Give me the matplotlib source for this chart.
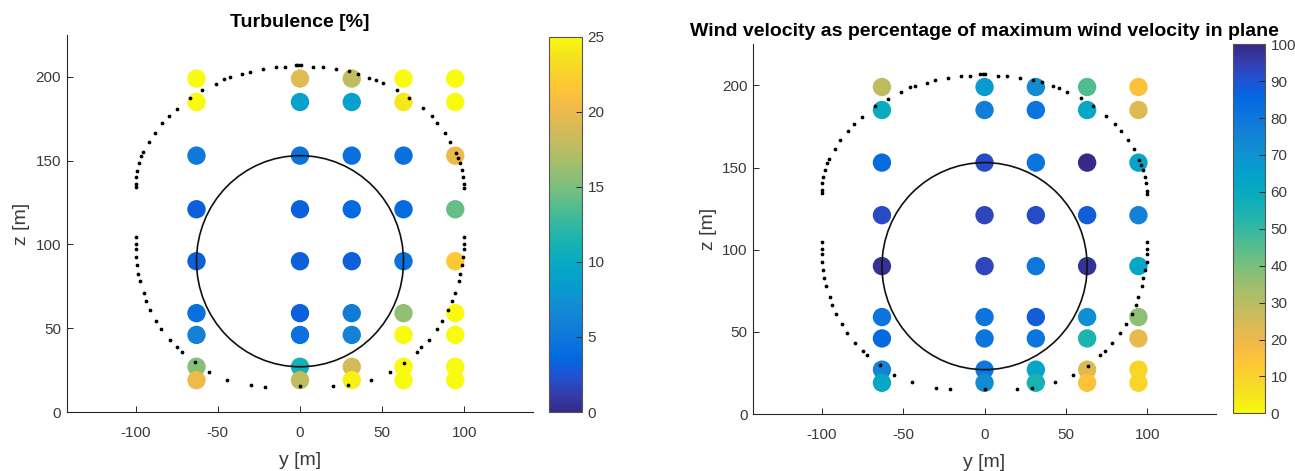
import numpy as np
import matplotlib
matplotlib.use('Agg')
import matplotlib.pyplot as plt
from matplotlib.colors import LinearSegmentedColormap
from matplotlib.patches import Circle

plt.rcParams['font.family'] = ['Liberation Sans', 'DejaVu Sans']
plt.rcParams['axes.unicode_minus'] = False

# measurement grid: lateral position y and height z [m]
y_pos = [-63, 0, 31.5, 63, 94.5]
z_pos = [199, 185, 153, 121, 90, 59, 46, 27, 19]

# turbulence intensity [%]  (rows follow z_pos, columns follow y_pos)
turb = np.array([
    [25.0, 19.4, 17.8, 25.0, 25.0],
    [25.0,  8.8,  8.8, 24.0, 25.0],
    [ 5.2,  4.5,  4.3,  4.3, 20.0],
    [ 3.2,  3.2,  3.8,  4.0, 14.3],
    [ 3.2,  3.2,  3.2,  4.3, 21.8],
    [ 4.3,  3.2,  5.5, 15.9, 25.0],
    [ 6.0,  4.3,  6.0, 25.0, 25.0],
    [15.5, 11.0, 18.8, 25.0, 25.0],
    [20.2, 17.8, 24.5, 25.0, 25.0],
])

# wind speed as % of the plane maximum
vel = np.array([
    [29, 67, 72, 46, 15],
    [59, 77, 81, 62, 23],
    [84, 92, 81, 100, 63],
    [92, 93, 92, 88, 76],
    [98, 93, 80, 98, 62],
    [81, 81, 88, 71, 37],
    [85, 81, 81, 54, 21],
    [75, 80, 63, 23, 9],
    [62, 72, 55, 15, 9],
])

# rotor disc
hub_height = 90
rotor_radius = 63

# lidar scan points
ring_y = [-2.5, -1, 0.5,
          -9, -14.5, -22.5, -30.5, -35.5, -42.5, -46, -51, -59.5, -67, -75,
          -80, -84, -88.5, -92, -95.5, -96.5, -97.7, -99, -100, -100, -100,
          -100, -100, -100, -100, -99.5, -98.5, -97.3, -95.2, -93.6, -91.2,
          -87.5, -84.5, -79.4, -74.7, -72, -64.2, -55.5, -44.5, -29.7, -21, 0,
          8, 14, 22, 30, 35.5, 42, 46, 50.5, 59, 66.5, 74.8, 80.2, 83.6, 88.2,
          91.5, 95, 96, 97.2, 98.6, 99.3, 100, 100,
          100, 100, 100, 99.5, 98.6, 97.6, 96.6, 94.5, 92.7, 90.3, 86.6, 83.4,
          78.3, 73.8, 71, 63.5, 54.5, 43.4, 29, 20]
ring_z = [207, 207, 207,
          206, 205.7, 204.7, 203, 201.7, 199.8, 198.8, 196, 192, 187.6, 181,
          176.4, 172.4, 166.7, 161.3, 155, 152.5, 148.5, 144, 140.4, 136.2,
          134.2, 104.5, 100.5, 97.3, 92.5, 87.5, 82.5, 78, 71, 66.4, 61,
          54.6, 49.6, 43, 38.5, 35.7, 29.7, 24, 19.3, 16, 15.1, 15.5,
          206, 205.7, 204.7, 203.5, 202, 199.6, 198.4, 196.2, 192.2, 187.6,
          181.2, 176.4, 172.4, 166.7, 161.3, 154.5, 151.7, 148.5, 144.3, 140.4,
          135.8, 133.8,
          104.5, 100.5, 97.3, 92.5, 87.5, 82.5, 78, 71, 66.4, 61, 54.6, 49.6,
          43, 38.5, 35.7, 29.5, 24, 19.3, 16, 15.4]

# parula colour table (every third entry of the 64-step map)
parula_rgb = [
    [0.2081, 0.1663, 0.5292], [0.2081, 0.2386, 0.6771], [0.1253, 0.3242, 0.8303],
    [0.0060, 0.4086, 0.8828], [0.0499, 0.4586, 0.8641], [0.0779, 0.5040, 0.8384],
    [0.0641, 0.5570, 0.8240], [0.0265, 0.6137, 0.8135], [0.0228, 0.6535, 0.7768],
    [0.0590, 0.6838, 0.7254], [0.1453, 0.7098, 0.6646], [0.2586, 0.7317, 0.5954],
    [0.3953, 0.7459, 0.5244], [0.5300, 0.7491, 0.4661], [0.6473, 0.7456, 0.4188],
    [0.7525, 0.7384, 0.3768], [0.8507, 0.7299, 0.3360], [0.9450, 0.7261, 0.2886],
    [0.9990, 0.7653, 0.2164], [0.9789, 0.8271, 0.1633], [0.9589, 0.8949, 0.1132],
    [0.9763, 0.9831, 0.0538],
]
parula = LinearSegmentedColormap.from_list('parula', parula_rgb)
parula_r = parula.reversed()

W, H = 1295, 471
fig = plt.figure(figsize=(W / 100, H / 100), dpi=100)

def px(x0, y0, x1, y1):
    return [x0 / W, 1 - y1 / H, (x1 - x0) / W, (y1 - y0) / H]

txt = '#3a3a3a'
YY, ZZ = np.meshgrid(y_pos, z_pos)

def panel(ax_box, cb_box, values, cmap, vmax, cticks, title):
    ax = fig.add_axes(ax_box)
    sc = ax.scatter(YY.ravel(), ZZ.ravel(), c=values.ravel(), cmap=cmap,
                    vmin=0, vmax=vmax, s=175, edgecolors='none', zorder=1)
    ax.plot(ring_y, ring_z, 'k.', ms=3.4, zorder=3)
    ax.add_patch(Circle((0, hub_height), rotor_radius, fill=False,
                        ec='#111111', lw=1.2, zorder=2))
    ax.set_xlim(-142, 142)
    ax.set_ylim(0, 225)
    ax.set_xticks([-100, -50, 0, 50, 100])
    ax.set_yticks([0, 50, 100, 150, 200])
    for s in ['top', 'right']:
        ax.spines[s].set_visible(False)
    for s in ['left', 'bottom']:
        ax.spines[s].set_color('#262626')
        ax.spines[s].set_linewidth(0.8)
    ax.tick_params(direction='in', length=4, width=0.7, colors='#262626',
                   labelsize=11, labelcolor=txt)
    ax.tick_params(axis='x', pad=10)
    ax.tick_params(axis='y', pad=4)
    ax.set_xlabel('y [m]', fontsize=14, color=txt, labelpad=9)
    ax.set_ylabel('z [m]', fontsize=14, color=txt, labelpad=4)
    ax.set_title(title, fontsize=14, fontweight='bold', pad=6)

    cax = fig.add_axes(cb_box)
    cb = fig.colorbar(sc, cax=cax, ticks=cticks)
    cb.outline.set_edgecolor('#555555')
    cb.outline.set_linewidth(0.8)
    cax.tick_params(direction='in', length=4, width=0.7, colors='#262626',
                    labelsize=11, labelcolor=txt, pad=4)
    return ax

panel(px(66.7, 35, 533.3, 412), px(549, 36.5, 582, 412), turb, parula, 25,
      [0, 5, 10, 15, 20, 25], 'Turbulence [%]')
panel(px(753.3, 44.3, 1215.8, 414), px(1233, 44.3, 1265, 413.3), vel, parula_r,
      100, list(range(0, 101, 10)),
      'Wind velocity as percentage of maximum wind velocity in plane')

fig.savefig('out.png', dpi=100)
